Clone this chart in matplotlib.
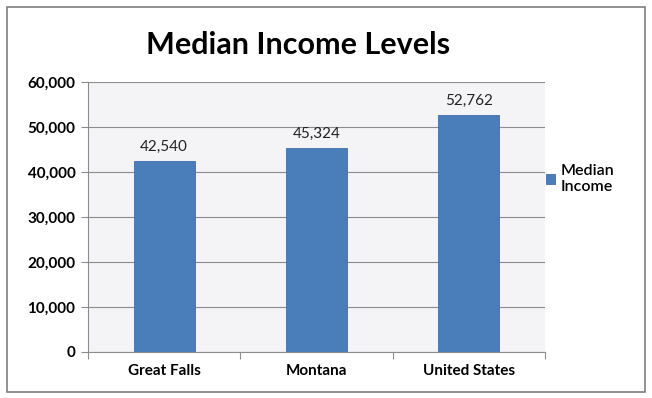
import matplotlib.pyplot as plt
import matplotlib.patches as mpatches
import numpy as np

# data
places = ['Great Falls', 'Montana', 'United States']
income = [42540, 45324, 52762]
yticks = [0, 10000, 20000, 30000, 40000, 50000, 60000]

plt.rcParams['font.family'] = ['Lato', 'DejaVu Sans']

fig = plt.figure(figsize=(6.52, 3.98), dpi=100)
fig.patch.set_facecolor('white')
ax = fig.add_axes([0.135, 0.116, 0.701, 0.678])
ax.set_facecolor('#f4f4f6')

# outer chart border
fig.patches.append(mpatches.Rectangle((0.011, 0.015), 0.978, 0.968, transform=fig.transFigure,
                                      fill=False, edgecolor='#7f7f7f', linewidth=1.2))

x = np.arange(len(places))
bars = ax.bar(x, income, 0.4, color='#4a7ebb', edgecolor='#3f6fa8', linewidth=0.6,
              label='Median\nIncome', zorder=3)

for rect, v in zip(bars, income):
    ax.annotate(f'{v:,}', xy=(rect.get_x() + rect.get_width() / 2, v),
                xytext=(0, 5), textcoords='offset points',
                ha='center', va='bottom', fontsize=11, color='#222222')

ax.set_ylim(0, 60000)
ax.set_xlim(-0.5, 2.5)
ax.set_yticks(yticks)
ax.set_yticklabels([f'{t:,}' for t in yticks], fontsize=11, fontweight='bold')
ax.yaxis.grid(True, color='#8c8c8c', linewidth=0.8, zorder=0)
ax.set_axisbelow(True)

# category labels between boundary ticks
ax.set_xticks([-0.5, 0.5, 1.5, 2.5])
ax.set_xticklabels([])
ax.set_xticks(x, minor=True)
ax.set_xticklabels(places, minor=True, fontsize=11, fontweight='bold')
ax.tick_params(axis='x', which='minor', length=0, pad=9)
ax.tick_params(axis='x', which='major', length=5, color='#8c8c8c')
ax.tick_params(axis='y', length=5, color='#8c8c8c', pad=4)

for s in ['top', 'right']:
    ax.spines[s].set_visible(False)
for s in ['left', 'bottom']:
    ax.spines[s].set_color('#8c8c8c')

ax.set_title('Median Income Levels', fontsize=22, fontweight='bold', pad=20, x=0.46)

fig.legend(loc='center left', bbox_to_anchor=(0.815, 0.55), frameon=False,
           handlelength=0.6, handleheight=0.6, handletextpad=0.3,
           prop={'size': 11.5, 'weight': 'semibold'})

fig.savefig('out.png', dpi=100)
